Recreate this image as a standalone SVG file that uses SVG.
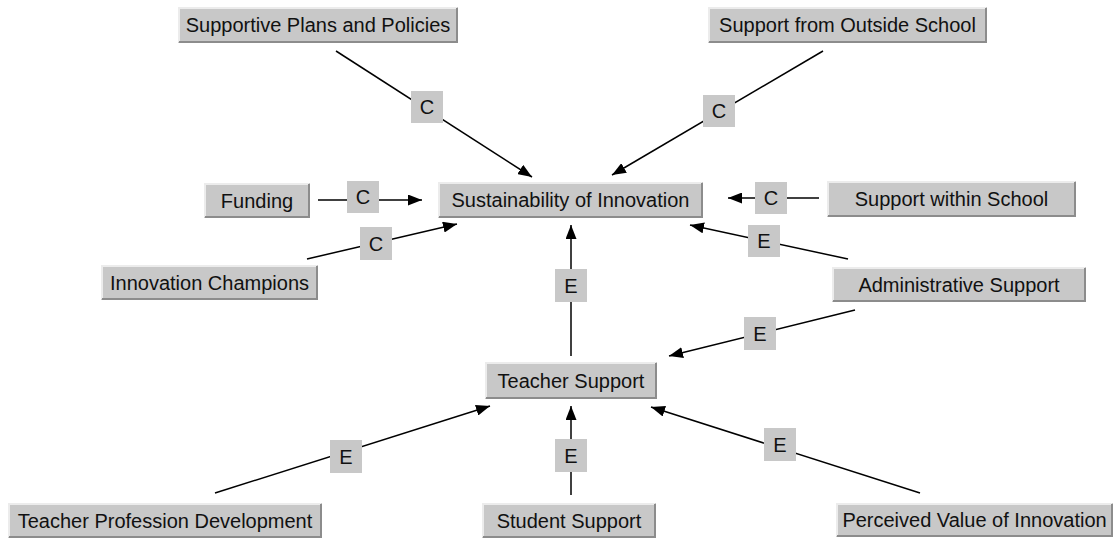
<svg xmlns="http://www.w3.org/2000/svg" width="1115" height="538" viewBox="0 0 1115 538">
  <defs>
    <marker id="arrow" markerUnits="userSpaceOnUse" markerWidth="15" markerHeight="11" refX="14" refY="5.5" orient="auto">
      <path d="M0,0 L14,5.5 L0,11 z" fill="#000"/>
    </marker>
    <style>
      .box { fill: #c8c8c8; }
      .hi { fill: none; stroke: #ececec; stroke-width: 2; }
      .lo { fill: none; stroke: #8c8c8c; stroke-width: 2; }
      .txt { font-family: "Liberation Sans", Arial, Helvetica, sans-serif; font-size: 20px; fill: #111; text-anchor: middle; }
      .edge { stroke: #000; stroke-width: 1.5; fill: none; marker-end: url(#arrow); }
      .tag { fill: #c8c8c8; }
    </style>
  </defs>
  <rect width="1115" height="538" fill="#fff"/>

  <!-- connectors with their C / E tags -->
  <g id="connectors">
    <line class="edge" x1="336" y1="51" x2="532" y2="177"/>
    <rect class="tag" x="411" y="91" width="32" height="32"/>
    <text class="txt" x="427" y="114">C</text>

    <line class="edge" x1="823" y1="51" x2="612" y2="175"/>
    <rect class="tag" x="703" y="95" width="32" height="32"/>
    <text class="txt" x="719" y="118">C</text>

    <line class="edge" x1="318" y1="200" x2="422" y2="200"/>
    <rect class="tag" x="347" y="181" width="32" height="32"/>
    <text class="txt" x="363" y="204">C</text>

    <line class="edge" x1="819" y1="198" x2="728" y2="198"/>
    <rect class="tag" x="755" y="182" width="32" height="32"/>
    <text class="txt" x="771" y="205">C</text>

    <line class="edge" x1="307" y1="259" x2="457" y2="224"/>
    <rect class="tag" x="360" y="227" width="32" height="33"/>
    <text class="txt" x="376" y="251">C</text>

    <line class="edge" x1="848" y1="259" x2="690" y2="225"/>
    <rect class="tag" x="748" y="225" width="32" height="32"/>
    <text class="txt" x="764" y="248">E</text>

    <line class="edge" x1="571" y1="356" x2="571" y2="225"/>
    <rect class="tag" x="555" y="269" width="32" height="33"/>
    <text class="txt" x="571" y="293">E</text>

    <line class="edge" x1="855" y1="310" x2="669" y2="356"/>
    <rect class="tag" x="744" y="317" width="32" height="33"/>
    <text class="txt" x="760" y="341">E</text>

    <line class="edge" x1="215" y1="493" x2="490" y2="406"/>
    <rect class="tag" x="330" y="440" width="32" height="33"/>
    <text class="txt" x="346" y="464">E</text>

    <line class="edge" x1="571" y1="495" x2="571" y2="406"/>
    <rect class="tag" x="555" y="439" width="32" height="33"/>
    <text class="txt" x="571" y="463">E</text>

    <line class="edge" x1="920" y1="493" x2="651" y2="407"/>
    <rect class="tag" x="764" y="428" width="32" height="33"/>
    <text class="txt" x="780" y="452">E</text>
  </g>

  <!-- nodes: raised grey buttons -->
  <g id="supportive-plans">
    <rect class="box" x="178" y="7" width="280" height="36"/>
    <path class="hi" d="M179,42 V8 H457"/>
    <path class="lo" d="M179,42 H457 V8"/>
    <text class="txt" x="318" y="32">Supportive Plans and Policies</text>
  </g>
  <g id="support-outside">
    <rect class="box" x="708" y="7" width="279" height="36"/>
    <path class="hi" d="M709,42 V8 H986"/>
    <path class="lo" d="M709,42 H986 V8"/>
    <text class="txt" x="847.5" y="32">Support from Outside School</text>
  </g>
  <g id="sustainability">
    <rect class="box" x="438" y="182" width="265" height="36"/>
    <path class="hi" d="M439,217 V183 H702"/>
    <path class="lo" d="M439,217 H702 V183"/>
    <text class="txt" x="570.5" y="207">Sustainability of Innovation</text>
  </g>
  <g id="funding">
    <rect class="box" x="204" y="183" width="106" height="35"/>
    <path class="hi" d="M205,217 V184 H309"/>
    <path class="lo" d="M205,217 H309 V184"/>
    <text class="txt" x="257" y="207.5">Funding</text>
  </g>
  <g id="support-within">
    <rect class="box" x="827" y="181" width="249" height="36"/>
    <path class="hi" d="M828,216 V182 H1075"/>
    <path class="lo" d="M828,216 H1075 V182"/>
    <text class="txt" x="951.5" y="206">Support within School</text>
  </g>
  <g id="innovation-champions">
    <rect class="box" x="101" y="265" width="217" height="35"/>
    <path class="hi" d="M102,299 V266 H317"/>
    <path class="lo" d="M102,299 H317 V266"/>
    <text class="txt" x="209.5" y="289.5">Innovation Champions</text>
  </g>
  <g id="administrative-support">
    <rect class="box" x="832" y="267" width="254" height="35"/>
    <path class="hi" d="M833,301 V268 H1085"/>
    <path class="lo" d="M833,301 H1085 V268"/>
    <text class="txt" x="959" y="291.5">Administrative Support</text>
  </g>
  <g id="teacher-support">
    <rect class="box" x="485" y="362" width="172" height="37"/>
    <path class="hi" d="M486,398 V363 H656"/>
    <path class="lo" d="M486,398 H656 V363"/>
    <text class="txt" x="571" y="387.5">Teacher Support</text>
  </g>
  <g id="student-support">
    <rect class="box" x="482" y="503" width="174" height="35"/>
    <path class="hi" d="M483,537 V504 H655"/>
    <path class="lo" d="M483,537 H655 V504"/>
    <text class="txt" x="569" y="527.5">Student Support</text>
  </g>
  <g id="teacher-development">
    <rect class="box" x="8" y="503" width="314" height="35"/>
    <path class="hi" d="M9,537 V504 H321"/>
    <path class="lo" d="M9,537 H321 V504"/>
    <text class="txt" x="165" y="527.5">Teacher Profession Development</text>
  </g>
  <g id="perceived-value">
    <rect class="box" x="836" y="503" width="277" height="34"/>
    <path class="hi" d="M837,536 V504 H1112"/>
    <path class="lo" d="M837,536 H1112 V504"/>
    <text class="txt" x="974.5" y="527">Perceived Value of Innovation</text>
  </g>
</svg>
